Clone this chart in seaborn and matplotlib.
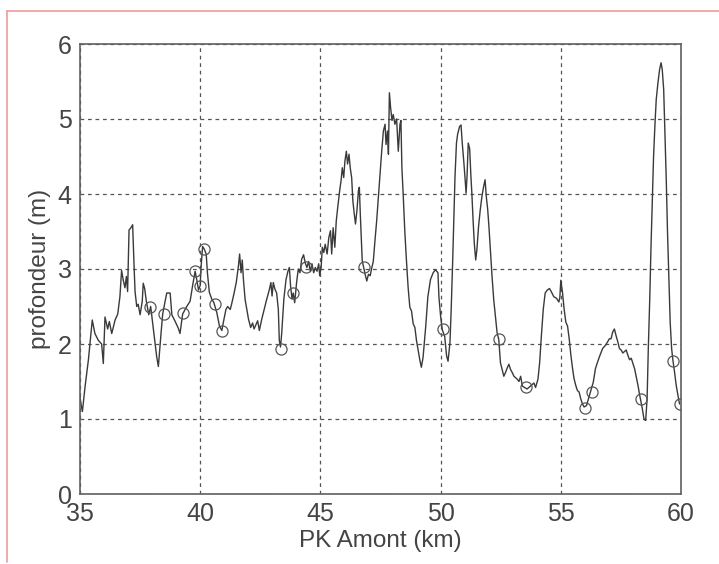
import numpy as np
import pandas as pd
import seaborn as sns
import matplotlib
matplotlib.use("Agg")
import matplotlib.pyplot as plt
from matplotlib.lines import Line2D

# ---- data ----
pk_km = [35.00, 35.04, 35.10, 35.21, 35.35, 35.51, 35.62, 35.76, 35.90, 35.97, 36.04, 36.15, 36.22,
         36.32, 36.46, 36.57, 36.66, 36.73, 36.80, 36.87, 36.93, 36.98, 37.04, 37.12, 37.19, 37.25,
         37.29, 37.36, 37.42, 37.50, 37.59, 37.63, 37.69, 37.76, 37.86, 37.94, 38.05, 38.19, 38.26,
         38.37, 38.44, 38.54, 38.61, 38.75, 38.82, 38.96, 39.09, 39.16, 39.27, 39.44, 39.58, 39.69,
         39.79, 39.86, 39.93, 40.00, 40.03, 40.10, 40.16, 40.25, 40.30, 40.38, 40.48, 40.57, 40.69,
         40.80, 40.90, 40.97, 41.07, 41.14, 41.25, 41.32, 41.41, 41.50, 41.59, 41.64, 41.70, 41.75,
         41.80, 41.87, 41.94, 42.01, 42.10, 42.18, 42.24, 42.32, 42.39, 42.46, 42.56, 42.66, 42.77,
         42.88, 42.94, 42.99, 43.04, 43.11, 43.18, 43.25, 43.29, 43.34, 43.39, 43.48, 43.57, 43.65,
         43.71, 43.76, 43.82, 43.87, 43.93, 44.01, 44.08, 44.15, 44.22, 44.30, 44.37, 44.44, 44.51,
         44.58, 44.65, 44.72, 44.79, 44.86, 44.93, 44.97, 45.03, 45.08, 45.14, 45.20, 45.28, 45.35,
         45.42, 45.47, 45.53, 45.60, 45.66, 45.72, 45.80, 45.86, 45.91, 45.97, 46.02, 46.08, 46.13,
         46.19, 46.24, 46.30, 46.35, 46.41, 46.46, 46.52, 46.58, 46.62, 46.66, 46.70, 46.74, 46.80,
         46.86, 46.93, 47.00, 47.07, 47.14, 47.20, 47.27, 47.34, 47.41, 47.48, 47.55, 47.62, 47.69,
         47.73, 47.79, 47.83, 47.87, 47.92, 47.98, 48.03, 48.10, 48.17, 48.24, 48.31, 48.35, 48.39,
         48.45, 48.51, 48.58, 48.65, 48.72, 48.79, 48.86, 48.93, 49.00, 49.07, 49.14, 49.20, 49.27,
         49.38, 49.47, 49.58, 49.69, 49.79, 49.89, 49.93, 50.00, 50.07, 50.17, 50.25, 50.31, 50.39,
         50.44, 50.50, 50.55, 50.60, 50.66, 50.71, 50.79, 50.85, 50.90, 50.96, 51.01, 51.06, 51.10,
         51.15, 51.21, 51.26, 51.30, 51.35, 51.40, 51.46, 51.51, 51.58, 51.65, 51.72, 51.79, 51.85,
         51.90, 51.96, 52.01, 52.07, 52.14, 52.21, 52.28, 52.35, 52.42, 52.49, 52.56, 52.63, 52.70,
         52.77, 52.84, 52.91, 52.98, 53.05, 53.12, 53.19, 53.26, 53.33, 53.40, 53.49, 53.60, 53.74,
         53.88, 53.95, 54.05, 54.12, 54.19, 54.27, 54.35, 54.44, 54.53, 54.60, 54.71, 54.82, 54.92,
         54.96, 55.00, 55.07, 55.14, 55.21, 55.28, 55.35, 55.42, 55.49, 55.55, 55.62, 55.69, 55.76,
         55.83, 55.90, 55.97, 56.07, 56.15, 56.25, 56.35, 56.44, 56.53, 56.63, 56.74, 56.85, 56.95,
         57.02, 57.09, 57.16, 57.23, 57.30, 57.37, 57.44, 57.51, 57.58, 57.65, 57.72, 57.79, 57.86,
         57.93, 58.00, 58.07, 58.14, 58.21, 58.28, 58.39, 58.46, 58.53, 58.59, 58.64, 58.70, 58.75,
         58.81, 58.86, 58.92, 58.97, 59.04, 59.11, 59.17, 59.22, 59.28, 59.33, 59.39, 59.44, 59.50,
         59.55, 59.61, 59.66, 59.73, 59.80, 59.87, 59.94]
depth_m = [1.30, 1.20, 1.10, 1.43, 1.79, 2.32, 2.14, 2.05, 2.00, 1.74, 2.36, 2.20, 2.30,
           2.14, 2.32, 2.40, 2.63, 2.98, 2.85, 2.75, 2.90, 2.70, 3.52, 3.55, 3.59, 3.03,
           2.70, 2.50, 2.53, 2.39, 2.57, 2.81, 2.74, 2.57, 2.39, 2.50, 2.21, 1.83, 1.70,
           2.14, 2.40, 2.57, 2.68, 2.68, 2.39, 2.30, 2.21, 2.14, 2.40, 2.50, 2.57, 2.79,
           2.97, 2.85, 2.72, 2.78, 3.00, 3.30, 3.27, 3.20, 2.95, 2.69, 2.60, 2.55, 2.42,
           2.24, 2.18, 2.30, 2.46, 2.50, 2.46, 2.55, 2.68, 2.82, 3.04, 3.20, 2.95, 3.12,
           2.85, 2.59, 2.46, 2.33, 2.22, 2.28, 2.20, 2.26, 2.31, 2.18, 2.33, 2.46, 2.60,
           2.73, 2.82, 2.64, 2.82, 2.73, 2.68, 2.46, 2.05, 1.96, 2.14, 2.60, 2.86, 2.97,
           3.02, 2.77, 2.60, 2.68, 2.55, 2.82, 3.00, 2.95, 3.13, 3.19, 3.08, 3.02, 3.10,
           2.97, 3.07, 2.95, 3.02, 2.97, 3.07, 2.91, 3.02, 3.29, 3.22, 3.33, 3.20, 3.42,
           3.51, 3.20, 3.55, 3.29, 3.64, 3.82, 4.04, 4.18, 4.35, 4.22, 4.44, 4.57, 4.40,
           4.53, 4.35, 4.22, 3.91, 3.73, 3.60, 3.78, 4.04, 4.09, 3.73, 3.42, 3.11, 3.02,
           2.93, 2.84, 2.93, 2.91, 3.02, 3.10, 3.38, 3.64, 3.95, 4.27, 4.57, 4.84, 4.93,
           4.66, 4.84, 4.53, 5.35, 5.15, 4.98, 5.06, 4.93, 5.00, 4.57, 4.93, 4.98, 4.35,
           3.95, 3.51, 3.11, 2.75, 2.49, 2.44, 2.27, 2.22, 2.04, 1.91, 1.78, 1.69, 1.82,
           2.23, 2.63, 2.86, 2.95, 2.99, 2.95, 2.63, 2.37, 2.19, 2.10, 1.84, 1.77, 2.02,
           2.46, 3.08, 3.66, 4.24, 4.68, 4.80, 4.90, 4.92, 4.68, 4.45, 4.24, 4.01, 4.24,
           4.68, 4.60, 4.24, 4.01, 3.66, 3.35, 3.12, 3.26, 3.57, 3.79, 3.97, 4.10, 4.19,
           3.97, 3.79, 3.57, 3.26, 2.90, 2.59, 2.37, 2.15, 2.06, 1.75, 1.66, 1.57, 1.62,
           1.68, 1.73, 1.66, 1.62, 1.57, 1.55, 1.53, 1.50, 1.57, 1.44, 1.42, 1.40, 1.44,
           1.48, 1.42, 1.53, 1.75, 2.10, 2.46, 2.68, 2.72, 2.74, 2.70, 2.63, 2.61, 2.56,
           2.62, 2.85, 2.69, 2.46, 2.29, 2.24, 2.07, 1.85, 1.67, 1.54, 1.45, 1.38, 1.36,
           1.27, 1.20, 1.16, 1.18, 1.27, 1.38, 1.49, 1.67, 1.76, 1.85, 1.94, 1.98, 2.03,
           2.07, 2.07, 2.16, 2.20, 2.11, 2.03, 1.94, 1.92, 1.88, 1.90, 1.92, 1.85, 1.79,
           1.81, 1.74, 1.67, 1.56, 1.45, 1.32, 1.14, 1.00, 0.98, 1.27, 1.94, 2.60, 3.27,
           3.93, 4.51, 4.95, 5.26, 5.48, 5.66, 5.75, 5.66, 5.39, 4.82, 4.15, 3.48, 2.82,
           2.29, 1.94, 1.79, 1.63, 1.45, 1.32, 1.20]

marker_km = [37.90, 38.49, 39.27, 39.78, 40.00, 40.16, 40.62, 40.90, 43.35, 43.87, 44.40,
             46.80, 50.11, 52.42, 53.54, 56.00, 56.29, 58.32, 59.67, 59.94]
marker_m = [2.50, 2.40, 2.41, 2.98, 2.78, 3.27, 2.54, 2.18, 1.93, 2.68, 3.03,
            3.03, 2.20, 2.07, 1.43, 1.15, 1.36, 1.27, 1.77, 1.20]

x_ticks = [35, 40, 45, 50, 55, 60]
y_ticks = [0, 1, 2, 3, 4, 5, 6]
x_label = "PK Amont (km)"
y_label = "profondeur (m)"

# ---- plot ----
sns.set_theme(style="white")
plt.rcParams["font.family"] = ["Liberation Sans", "DejaVu Sans"]

fig = plt.figure(figsize=(7.19, 5.64), dpi=100)
ax = fig.add_axes([80 / 719, 70 / 564, 601 / 719, 450 / 564])

line_color = "#3a3a3a"
profile = pd.DataFrame({"pk": pk_km, "depth": depth_m})
sns.lineplot(data=profile, x="pk", y="depth", sort=False, estimator=None,
             color=line_color, linewidth=1.0, ax=ax)

pts = pd.DataFrame({"pk": marker_km, "depth": marker_m})
sns.lineplot(data=pts, x="pk", y="depth", sort=False, estimator=None,
             linestyle="none", marker="o", markersize=8,
             markerfacecolor="none", markeredgecolor="#555555",
             markeredgewidth=0.9, ax=ax)

ax.set_xlim(35, 60)
ax.set_ylim(0, 6)
ax.set_xticks(x_ticks)
ax.set_yticks(y_ticks)
ax.grid(True, color="#555555", linestyle=(0, (3, 3)), linewidth=0.9)
ax.set_axisbelow(True)

text_color = "#444444"
ax.tick_params(direction="in", length=5, width=0.8, colors="#555555",
               labelcolor=text_color, labelsize=18, pad=6)
for s in ax.spines.values():
    s.set_color("#606060")
    s.set_linewidth(1.2)
    s.set_visible(True)

ax.set_xlabel(x_label, fontsize=17.5, color=text_color, labelpad=3)
ax.set_ylabel(y_label, fontsize=17.5, color=text_color, labelpad=5)

# pinkish scan frame
fig.add_artist(Line2D([7 / 719, 7 / 719], [2 / 564, 553 / 564], transform=fig.transFigure,
                      color="#f19a9a", linewidth=1.2))
fig.add_artist(Line2D([7 / 719, 1.0], [553 / 564, 553 / 564], transform=fig.transFigure,
                      color="#f19a9a", linewidth=1.2))

fig.savefig("out.png", dpi=100)
